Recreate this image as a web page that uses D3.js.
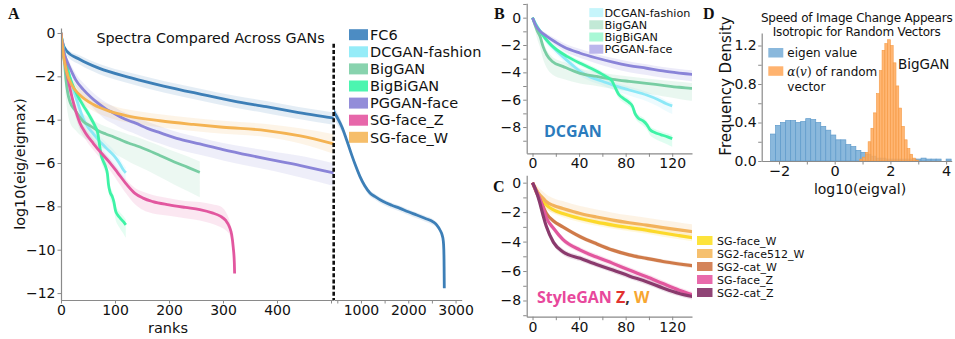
<!DOCTYPE html>
<html>
<head>
<meta charset="utf-8">
<script src="https://cdn.jsdelivr.net/npm/d3@7"></script>
<style>
  body { margin: 0; background: #fff; }
  svg { display: block; }
  text { font-family: "DejaVu Sans", sans-serif; }
</style>
</head>
<body>
<svg id="fig" width="955" height="339"></svg>
<script>
// ---------- Panel A: spectra (log10 eig / eigmax) vs rank ----------
const fc6Rank = [0,2,10,35,70,130,190,260,320,380,440,505,600,698,800,900,980,1080,1191,1300,1472,1650,1825,2000,2178,2350,2525,2600,2671,2720,2741,2752,2758,2760,2762];
const fc6Mean = [0,-0.35,-0.82,-1.22,-1.62,-2.07,-2.45,-2.83,-3.14,-3.40,-3.67,-3.93,-4.35,-4.94,-5.6,-6.2,-6.63,-7.05,-7.38,-7.55,-7.78,-7.95,-8.09,-8.25,-8.40,-8.55,-8.71,-8.85,-9.09,-9.35,-9.6,-10.0,-10.78,-11.3,-11.78];
const fc6Up   = [0,0.05,0.12,0.18,0.2,0.22,0.24,0.25,0.25,0.26,0.26,0.26,0.2,0.15,0.13,0.12,0.12,0.12,0.12,0.12,0.12,0.12,0.12,0.12,0.12,0.12,0.12,0.1,0.08,0.05,0.03,0,0,0,0];
const fc6Dn   = [0,-0.1,-0.2,-0.25,-0.27,-0.28,-0.3,-0.3,-0.3,-0.3,-0.3,-0.3,-0.22,-0.18,-0.16,-0.15,-0.15,-0.15,-0.15,-0.15,-0.15,-0.15,-0.15,-0.15,-0.15,-0.15,-0.15,-0.12,-0.1,-0.06,-0.03,0,0,0,0];

const dcRank = [0,3,6,9,12,18,26,34,41,50,60,69,83,98,108,115,120];
const dcMean = [0,-0.5,-0.9,-1.3,-1.65,-2.2,-2.85,-3.45,-3.95,-4.35,-4.65,-4.93,-5.29,-5.66,-6.0,-6.3,-6.45];
const dcUp   = [0,0.1,0.15,0.2,0.2,0.22,0.25,0.25,0.25,0.25,0.25,0.25,0.25,0.25,0.25,0.25,0.25];
const dcDn   = [0,-0.15,-0.2,-0.25,-0.3,-0.3,-0.3,-0.3,-0.3,-0.3,-0.3,-0.35,-0.4,-0.45,-0.5,-0.55,-0.6];

const bgRank = [0,2,4,6.6,9,12.3,17,26.5,40.8,55,69,83,97.8,112,126,136,160,183,210,235,257];
const bgMean = [0,-0.5,-0.95,-1.4,-2.1,-2.73,-3.2,-3.58,-4.07,-4.3,-4.51,-4.66,-4.8,-4.95,-5.09,-5.17,-5.4,-5.65,-5.95,-6.2,-6.43];
const bgUp   = [0,0.15,0.25,0.3,0.35,0.35,0.35,0.35,0.35,0.35,0.35,0.35,0.35,0.38,0.4,0.4,0.42,0.45,0.48,0.5,0.5];
const bgDn   = [0,-0.3,-0.6,-0.8,-0.9,-0.95,-0.95,-0.9,-0.75,-0.7,-0.7,-0.72,-0.75,-0.8,-0.85,-0.9,-0.95,-1.0,-1.05,-1.1,-1.15];

const bbRank = [0,3,6,9,12,16,21,30,41,50,58,64,68,71,74,78,83,86,88,91,95,98,101,105,110,116,120];
const bbMean = [0,-0.55,-0.95,-1.3,-1.63,-2.0,-2.36,-2.85,-3.34,-3.7,-4.05,-4.35,-4.6,-5.1,-5.6,-5.9,-6.2,-6.5,-7.0,-7.35,-7.55,-7.8,-8.2,-8.4,-8.55,-8.72,-8.85];
const bbUp   = [0,0.1,0.15,0.2,0.2,0.2,0.2,0.2,0.2,0.2,0.2,0.2,0.22,0.25,0.25,0.25,0.25,0.25,0.25,0.25,0.25,0.25,0.25,0.25,0.25,0.25,0.25];
const bbDn   = [0,-0.1,-0.15,-0.2,-0.2,-0.2,-0.2,-0.2,-0.2,-0.2,-0.2,-0.22,-0.25,-0.3,-0.3,-0.3,-0.3,-0.3,-0.3,-0.3,-0.35,-0.35,-0.4,-0.45,-0.5,-0.55,-0.6];

const pgRank = [0,3,6,12,20,27,41,55,69,83,98,112,126,137,160,183,220,257,300,350,400,450,505];
const pgMean = [0,-0.6,-0.95,-1.35,-1.8,-2.15,-2.6,-2.95,-3.25,-3.5,-3.7,-3.9,-4.05,-4.15,-4.4,-4.6,-4.9,-5.12,-5.38,-5.65,-5.9,-6.15,-6.46];
const pgUp   = [0,0.1,0.15,0.2,0.25,0.28,0.3,0.3,0.3,0.3,0.3,0.3,0.3,0.3,0.3,0.3,0.3,0.3,0.3,0.35,0.4,0.45,0.45];
const pgDn   = [0,-0.1,-0.15,-0.2,-0.25,-0.3,-0.35,-0.4,-0.45,-0.5,-0.5,-0.5,-0.5,-0.5,-0.5,-0.5,-0.5,-0.5,-0.5,-0.5,-0.5,-0.55,-0.6];

const szRank = [0,2,4,8,12,17,25,35,45,60,75,91,105,122,137,152,170,200,230,257,280,295,305,312,316,319,321,321.5];
const szMean = [0,-0.45,-0.85,-1.45,-2.0,-2.6,-3.4,-4.15,-4.6,-5.1,-5.55,-6.0,-6.45,-7.0,-7.4,-7.62,-7.78,-7.93,-8.05,-8.15,-8.3,-8.45,-8.65,-8.95,-9.3,-9.9,-10.6,-11.1];
const szUp   = [0,0.1,0.15,0.2,0.2,0.2,0.2,0.2,0.2,0.2,0.2,0.2,0.2,0.2,0.25,0.3,0.3,0.3,0.3,0.35,0.4,0.45,0.4,0.3,0.2,0.1,0,0];
const szDn   = [0,-0.1,-0.15,-0.2,-0.25,-0.3,-0.3,-0.3,-0.3,-0.3,-0.3,-0.35,-0.4,-0.45,-0.5,-0.55,-0.55,-0.5,-0.5,-0.5,-0.5,-0.5,-0.45,-0.35,-0.25,-0.1,0,0];

const swRank = [0,2,5,10,20,35,60,91,122,183,245,300,380,443,505];
const swMean = [0,-0.5,-1.1,-1.75,-2.4,-2.86,-3.3,-3.62,-3.82,-4.05,-4.22,-4.35,-4.5,-4.75,-5.12];
const swUp   = [0,0.1,0.2,0.25,0.3,0.3,0.3,0.3,0.3,0.3,0.3,0.3,0.3,0.35,0.45];
const swDn   = [0,-0.1,-0.2,-0.25,-0.3,-0.3,-0.3,-0.3,-0.3,-0.3,-0.3,-0.3,-0.3,-0.35,-0.45];

const ganNames  = ["FC6","DCGAN-fashion","BigGAN","BigBiGAN","PGGAN-face","SG-face_Z","SG-face_W"];
const ganColors = ["#3d7fb7","#8ce8f7","#78cda3","#3ef3a6","#8a84d8","#e2579f","#f4b352"];
const ganSwatch = ["#4c8cc3","#95ecf8","#88d3ae","#4cf5b0","#938dd9","#e767aa","#f6be6a"];

// ---------- Panel B legend (subset of panel A models) ----------
const bNames  = ["DCGAN-fashion","BigGAN","BigBiGAN","PGGAN-face"];
const bSwatch = ["#c6f5fb","#c2e9d6","#a9f8d6","#bbb6ec"];

// ---------- Panel C: StyleGAN spaces ----------
const cRank     = [0,3,6,9,12,18,26,41,55,69,83,98,112,126,139];
const cFaceW    = [0,-0.5,-0.9,-1.25,-1.53,-1.85,-2.09,-2.43,-2.68,-2.88,-3.05,-3.22,-3.42,-3.6,-3.76];
const cFace512W = [0,-0.45,-0.8,-1.05,-1.3,-1.55,-1.75,-2.09,-2.33,-2.54,-2.72,-2.88,-3.05,-3.2,-3.35];
const cCatW     = [0,-0.6,-1.1,-1.6,-2.09,-2.6,-3.0,-3.67,-4.15,-4.58,-4.9,-5.14,-5.35,-5.52,-5.66];
const cFaceZ    = [0,-0.55,-1.05,-1.7,-2.4,-3.1,-3.85,-4.58,-5.05,-5.48,-5.93,-6.39,-6.85,-7.3,-7.65];
const cCatZ     = [0,-0.55,-1.3,-2.2,-3.0,-4.05,-4.69,-5.14,-5.55,-5.93,-6.33,-6.73,-7.15,-7.52,-7.76];
const cFaceWSd    = [0,0.15,0.2,0.25,0.25,0.25,0.25,0.25,0.25,0.25,0.25,0.25,0.25,0.25,0.25];
const cFace512WSd = [0,0.3,0.4,0.45,0.5,0.5,0.5,0.5,0.5,0.5,0.5,0.5,0.5,0.5,0.5];
const cCatWSd     = [0,0.1,0.15,0.15,0.15,0.15,0.15,0.15,0.15,0.15,0.15,0.15,0.15,0.15,0.15];
const cFaceZSd    = [0,0.15,0.2,0.2,0.2,0.2,0.2,0.2,0.2,0.2,0.2,0.2,0.2,0.2,0.2];
const cCatZSd     = [0,0.15,0.2,0.2,0.2,0.2,0.2,0.2,0.2,0.2,0.2,0.2,0.2,0.2,0.2];
const cNames  = ["SG-face_W","SG2-face512_W","SG2-cat_W","SG-face_Z","SG2-cat_Z"];
const cColors = ["#fcd92a","#f2b25c","#cf7a49","#e2579e","#8a3a6d"];
const cSwatch = ["#fde33b","#f6c06e","#d4845a","#e86aab","#904476"];

// ---------- Panel D: histograms of log10 eigenvalue ----------
const eigBinStart = -2.3, eigBinWidth = 0.18;
const eigDensity = [0.28,0.37,0.40,0.42,0.42,0.40,0.41,0.44,0.43,0.40,0.36,0.32,0.27,0.22,0.22,0.17,0.15,0.11,0.09,0.07,0.05,0.03,0.03,0.02,0.02,0.02,0.02,0.02,0.02,0.02,0.03,0.02,0.02,0.02,0,0.02];
const rndBinStart = 0.9, rndBinWidth = 0.1;
const rndDensity = [0.02,0.04,0.09,0.2,0.34,0.5,0.7,0.94,1.15,1.22,1.26,1.2,1.02,0.78,0.55,0.36,0.22,0.13,0.07,0.03,0.01];

// ---------- tick values ----------
const aYTicks = [0,-2,-4,-6,-8,-10,-12];
const aXTicksLeft = [0,100,200,300,400,500];
const aXTicksRight = [500,1000,1500,2000,2500,3000];
const bcXTicks = [0,20,40,60,80,100,120];
const bYTicks = [1,0,-1,-2,-3,-4,-5,-6,-7,-8,-9];
const cYTicks = [0,-1,-2,-3,-4,-5,-6,-7,-8,-9];
const dYTicks = [0,0.2,0.4,0.6,0.8,1.0,1.2];
const dXTicks = [-2,-1,0,1,2,3,4];

const svg = d3.select("#fig");
const defs = svg.append("defs");
const AX = "#8a8a8a";
const fmtInt = d3.format("d");

function addClip(id, x, y, w, h) {
  defs.append("clipPath").attr("id", id).append("rect")
    .attr("x", x).attr("y", y).attr("width", w).attr("height", h);
}

function styleAxis(g, fs) {
  g.attr("font-family", "DejaVu Sans").attr("font-size", fs);
  g.select(".domain").attr("stroke", AX).attr("stroke-width", 1.2);
  g.selectAll(".tick line").attr("stroke", AX).attr("stroke-width", 1);
  g.selectAll(".tick text").attr("fill", "#111");
}

function seriesPts(ranks, mean, up, dn) {
  return ranks.map((r, i) => ({ r, m: mean[i], hi: mean[i] + up[i], lo: mean[i] + dn[i] }));
}

function band(g, xs, ys, pts, color, op) {
  g.append("path").datum(pts)
    .attr("d", d3.area().x(d => xs(d.r)).y0(d => ys(d.lo)).y1(d => ys(d.hi)).curve(d3.curveMonotoneX))
    .attr("fill", color).attr("fill-opacity", op).attr("stroke", "none");
}

function line(g, xs, ys, pts, color, w) {
  g.append("path").datum(pts)
    .attr("d", d3.line().x(d => xs(d.r)).y(d => ys(d.m)).curve(d3.curveMonotoneX))
    .attr("fill", "none").attr("stroke", color).attr("stroke-width", w)
    .attr("stroke-linejoin", "round");
}

function panelLetter(txt, x, y) {
  svg.append("text").attr("x", x).attr("y", y).text(txt)
    .style("font-family", "'Liberation Serif', 'DejaVu Serif', serif")
    .style("font-weight", "bold").style("font-size", "16px").attr("fill", "#111");
}

// ===================== Panel A =====================
const yA = d3.scaleLinear().domain([-12.32, 0.23]).range([300, 28]);
const xAL = d3.scaleLinear().domain([0, 505]).range([61, 333.7]);
const xAR = d3.scaleLinear().domain([430, 3130]).range([334, 461.7]);
addClip("clipAL", 61, 0, 272.7, 339);
addClip("clipAR", 334, 0, 128, 339);

const aSeries = [
  seriesPts(fc6Rank, fc6Mean, fc6Up, fc6Dn),
  seriesPts(dcRank, dcMean, dcUp, dcDn),
  seriesPts(bgRank, bgMean, bgUp, bgDn),
  seriesPts(bbRank, bbMean, bbUp, bbDn),
  seriesPts(pgRank, pgMean, pgUp, pgDn),
  seriesPts(szRank, szMean, szUp, szDn),
  seriesPts(swRank, swMean, swUp, swDn)
];

const gAL = svg.append("g").attr("clip-path", "url(#clipAL)");
aSeries.forEach((s, i) => band(gAL, xAL, yA, s, ganColors[i], 0.14));
aSeries.forEach((s, i) => line(gAL, xAL, yA, s, ganColors[i], 2.8));
const gAR = svg.append("g").attr("clip-path", "url(#clipAR)");
band(gAR, xAR, yA, aSeries[0], ganColors[0], 0.14);
line(gAR, xAR, yA, aSeries[0], ganColors[0], 2.8);

styleAxis(svg.append("g").attr("transform", "translate(61,0)")
  .call(d3.axisLeft(yA).tickValues(aYTicks).tickFormat(fmtInt).tickSize(3.5).tickPadding(2).tickSizeOuter(0)), 14);
styleAxis(svg.append("g").attr("transform", "translate(0,300)")
  .call(d3.axisBottom(xAL).tickValues(aXTicksLeft).tickFormat(d => d < 500 ? fmtInt(d) : "").tickSize(3.5).tickPadding(1.5).tickSizeOuter(0)), 14);
styleAxis(svg.append("g").attr("transform", "translate(0,300)")
  .call(d3.axisBottom(xAR).tickValues(aXTicksRight).tickFormat(d => d % 1000 === 0 ? fmtInt(d) : "").tickSize(3.5).tickPadding(1.5).tickSizeOuter(0)), 14);

// break marker between the two rank ranges
svg.append("line").attr("x1", xAL(505)).attr("x2", xAL(505))
  .attr("y1", yA(-0.5)).attr("y2", 300)
  .attr("stroke", "#111").attr("stroke-width", 2.6).attr("stroke-dasharray", "4,2.2");

svg.append("text").attr("x", 210.5).attr("y", 43).attr("text-anchor", "middle")
  .style("font-size", "14.3px").attr("fill", "#111").text("Spectra Compared Across GANs");
svg.append("text").attr("x", 168).attr("y", 333).attr("text-anchor", "middle")
  .style("font-size", "14.5px").attr("fill", "#111").text("ranks");
svg.append("text").attr("transform", "translate(25,164) rotate(-90)").attr("text-anchor", "middle")
  .style("font-size", "14.4px").attr("fill", "#111").text("log10(eig/eigmax)");

const legA = svg.append("g");
ganNames.forEach((n, i) => {
  const cy = 34.7 + i * 17.1;
  legA.append("rect").attr("x", 349).attr("y", cy - 5.5).attr("width", 19).attr("height", 11).attr("fill", ganSwatch[i]);
  legA.append("text").attr("x", 370).attr("y", cy + 5.2).style("font-size", "14.5px").attr("fill", "#111").text(n);
});
panelLetter("A", 8, 19);

// ===================== Panel B =====================
const xB = d3.scaleLinear().domain([-5, 137]).range([526.7, 692]);
const yB = d3.scaleLinear().domain([-9.92, 1.05]).range([153.3, 3.3]);
addClip("clipB", 526.7, 0, 165.3, 160);
const gB = svg.append("g").attr("clip-path", "url(#clipB)");
const bSeries = [aSeries[1], aSeries[2], aSeries[3], aSeries[4]];
const bColors = [ganColors[1], ganColors[2], ganColors[3], ganColors[4]];
bSeries.forEach((s, i) => band(gB, xB, yB, s, bColors[i], 0.16));
bSeries.forEach((s, i) => line(gB, xB, yB, s, bColors[i], 2.8));

styleAxis(svg.append("g").attr("transform", "translate(526.7,0)")
  .call(d3.axisLeft(yB).tickValues(bYTicks).tickFormat(d => (d % 2 === 0) ? fmtInt(d) : "").tickSize(3.5).tickPadding(2).tickSizeOuter(0)), 14);
styleAxis(svg.append("g").attr("transform", "translate(0,153.3)")
  .call(d3.axisBottom(xB).tickValues(bcXTicks).tickFormat(d => (d % 40 === 0) ? fmtInt(d) : "").tickSize(3.5).tickPadding(1).tickSizeOuter(0)), 14);

const legB = svg.append("g");
bNames.forEach((n, i) => {
  const cy = 12.6 + i * 12.2;
  legB.append("rect").attr("x", 589.3).attr("y", cy - 4.5).attr("width", 14).attr("height", 9).attr("fill", bSwatch[i]);
  legB.append("text").attr("x", 604.5).attr("y", cy + 4).style("font-size", "11.2px").attr("fill", "#111").text(n);
});
svg.append("text").attr("x", 544).attr("y", 136.5)
  .style("font-family", "'Open Sans', sans-serif").style("font-weight", "700").style("font-size", "16px")
  .attr("fill", "#2b7bbd").text("DCGAN");
panelLetter("B", 494, 19);

// ===================== Panel C =====================
const xC = d3.scaleLinear().domain([-5, 137]).range([526.7, 692]);
const yC = d3.scaleLinear().domain([-9.1, 0.5]).range([316.7, 175.3]);
addClip("clipC", 526.7, 170, 165.3, 150);
const gC = svg.append("g").attr("clip-path", "url(#clipC)");
const cMeans = [cFaceW, cFace512W, cCatW, cFaceZ, cCatZ];
const cSds = [cFaceWSd, cFace512WSd, cCatWSd, cFaceZSd, cCatZSd];
const cSeries = cMeans.map((m, i) => seriesPts(cRank, m, cSds[i], cSds[i].map(v => -v)));
cSeries.forEach((s, i) => band(gC, xC, yC, s, cColors[i], 0.16));
cSeries.forEach((s, i) => line(gC, xC, yC, s, cColors[i], 3.2));

styleAxis(svg.append("g").attr("transform", "translate(526.7,0)")
  .call(d3.axisLeft(yC).tickValues(cYTicks).tickFormat(d => (d % 2 === 0) ? fmtInt(d) : "").tickSize(3.5).tickPadding(2).tickSizeOuter(0)), 14);
styleAxis(svg.append("g").attr("transform", "translate(0,316.7)")
  .call(d3.axisBottom(xC).tickValues(bcXTicks).tickFormat(d => (d % 40 === 0) ? fmtInt(d) : "").tickSize(3.5).tickPadding(1.5).tickSizeOuter(0)), 14);

const legC = svg.append("g");
cNames.forEach((n, i) => {
  const cy = 240.5 + i * 13;
  legC.append("rect").attr("x", 697).attr("y", cy - 4.5).attr("width", 15.5).attr("height", 9).attr("fill", cSwatch[i]);
  legC.append("text").attr("x", 717).attr("y", cy + 4).style("font-size", "11px").attr("fill", "#111").text(n);
});
const sgLabel = svg.append("text").attr("x", 537).attr("y", 303)
  .style("font-family", "'Open Sans', sans-serif").style("font-weight", "700").style("font-size", "16px");
sgLabel.append("tspan").attr("fill", "#e8489c").text("StyleGAN ");
sgLabel.append("tspan").attr("fill", "#e2322f").text("Z");
sgLabel.append("tspan").attr("fill", "#333").text(", ");
sgLabel.append("tspan").attr("fill", "#f7a631").text("W");
panelLetter("C", 493, 192);

// ===================== Panel D =====================
const xD = d3.scaleLinear().domain([-2.62, 4.2]).range([761.7, 951.7]);
const yD = d3.scaleLinear().domain([0, 1.33]).range([161, 33]);
const gD = svg.append("g");
eigDensity.forEach((h, i) => {
  if (h <= 0) return;
  const x0 = eigBinStart + i * eigBinWidth;
  gD.append("rect").attr("x", xD(x0)).attr("width", xD(x0 + eigBinWidth) - xD(x0))
    .attr("y", yD(h)).attr("height", yD(0) - yD(h))
    .attr("fill", "#8ab8dc").attr("stroke", "#5f9bcb").attr("stroke-width", 0.7);
});
rndDensity.forEach((h, i) => {
  if (h <= 0) return;
  const x0 = rndBinStart + i * rndBinWidth;
  gD.append("rect").attr("x", xD(x0)).attr("width", xD(x0 + rndBinWidth) - xD(x0))
    .attr("y", yD(h)).attr("height", yD(0) - yD(h))
    .attr("fill", "#ffa95a").attr("fill-opacity", 0.85).attr("stroke", "#f59a45").attr("stroke-width", 0.6);
});

styleAxis(svg.append("g").attr("transform", "translate(761.7,0)")
  .call(d3.axisLeft(yD).tickValues(dYTicks).tickFormat(d => (Math.round(d * 10) % 4 === 0) ? d3.format(".1f")(d) : "").tickSize(3.5).tickPadding(1.5).tickSizeOuter(0)), 14);
styleAxis(svg.append("g").attr("transform", "translate(0,161)")
  .call(d3.axisBottom(xD).tickValues(dXTicks).tickFormat(d => (d % 2 === 0) ? fmtInt(d) : "").tickSize(3.5).tickPadding(1.5).tickSizeOuter(0)), 14.5);

svg.append("text").attr("x", 856.7).attr("y", 21.5).attr("text-anchor", "middle")
  .style("font-size", "12px").style("letter-spacing", "-0.2px").attr("fill", "#111").text("Speed of Image Change Appears");
svg.append("text").attr("x", 856.7).attr("y", 35.8).attr("text-anchor", "middle")
  .style("font-size", "12px").style("letter-spacing", "-0.2px").attr("fill", "#111").text("Isotropic for Random Vectors");
svg.append("text").attr("x", 860).attr("y", 193.5).attr("text-anchor", "middle")
  .style("font-size", "14px").attr("fill", "#111").text("log10(eigval)");
svg.append("text").attr("transform", "translate(731,86) rotate(-90)").attr("text-anchor", "middle")
  .style("font-size", "15px").attr("fill", "#111").text("Frequency Density");
svg.append("text").attr("x", 898).attr("y", 68.5)
  .style("font-size", "13.5px").attr("fill", "#111").text("BigGAN");

const legD = svg.append("g");
legD.append("rect").attr("x", 768.3).attr("y", 48).attr("width", 15).attr("height", 9.5).attr("fill", "#8ab8dc");
legD.append("text").attr("x", 787.3).attr("y", 57).style("font-size", "12px").attr("fill", "#111").text("eigen value");
legD.append("rect").attr("x", 768.3).attr("y", 66.3).attr("width", 15).attr("height", 9.5).attr("fill", "#ffb36f");
const alphaTxt = legD.append("text").attr("x", 787.3).attr("y", 75.5).style("font-size", "12px").attr("fill", "#111");
alphaTxt.append("tspan").style("font-family", "'DejaVu Serif', serif").style("font-style", "italic").text("α");
alphaTxt.append("tspan").style("font-family", "'DejaVu Serif', serif").text("(");
alphaTxt.append("tspan").style("font-family", "'DejaVu Serif', serif").style("font-style", "italic").text("v");
alphaTxt.append("tspan").style("font-family", "'DejaVu Serif', serif").text(")");
alphaTxt.append("tspan").text(" of random");
legD.append("text").attr("x", 787.3).attr("y", 91).style("font-size", "12px").attr("fill", "#111").text("vector");
panelLetter("D", 703, 19);
</script>
</body>
</html>
